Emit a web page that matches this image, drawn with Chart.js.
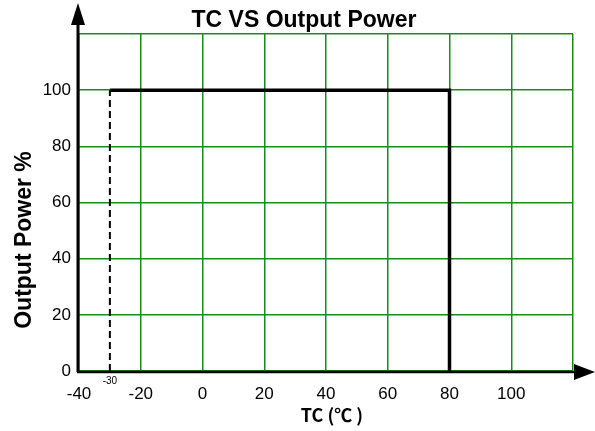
<!DOCTYPE html>
<html>
<head>
<meta charset="utf-8">
<script src="https://cdn.jsdelivr.net/npm/chart.js@4/dist/chart.umd.min.js"></script>
<style>
  html, body { margin: 0; padding: 0; background: #fff; }
  #wrap { width: 595px; height: 431px; }
</style>
</head>
<body>
<div id="wrap"><canvas id="powerChart"></canvas></div>
<script>
// derating curve: full power from -30 up to 80, then drops to 0
const curveTemp = [-30, 80, 80];
const curvePower = [100, 100, 0];
// dashed marker at the lower temperature limit
const limitTemp = [-30, -30];
const limitPower = [0, 100];
const limitLabel = '-30';

const xTicks = [-40, -20, 0, 20, 40, 60, 80, 100, 120];
const yTicks = [0, 20, 40, 60, 80, 100, 120];
const xHidden = [120];
const yHidden = [120];

const titleText = 'TC VS Output Power';
const xTitle = 'TC (℃ )';
const yTitle = 'Output Power %';

const GRID = '#1c8a1c';

function toPoints(xs, ys) {
    return xs.map((x, i) => ({ x: x, y: ys[i] }));
}

// draws the arrows, titles and the little -30 mark
const decorations = {
    id: 'decorations',
    afterDraw(chart) {
        const ctx = chart.ctx;
        const area = chart.chartArea;
        const xs = chart.scales.x;
        ctx.save();

        // axes with arrows
        ctx.strokeStyle = '#000';
        ctx.fillStyle = '#000';
        ctx.lineWidth = 3;
        ctx.beginPath();
        ctx.moveTo(area.left - 1, area.bottom + 1);
        ctx.lineTo(area.left - 1, 22);
        ctx.stroke();
        ctx.lineWidth = 2.5;
        ctx.beginPath();
        ctx.moveTo(area.left - 2, area.bottom + 1);
        ctx.lineTo(area.right + 4, area.bottom + 1);
        ctx.stroke();

        ctx.beginPath();
        ctx.moveTo(area.left - 1, 3);
        ctx.lineTo(area.left - 8, 25);
        ctx.lineTo(area.left + 6, 25);
        ctx.closePath();
        ctx.fill();

        ctx.beginPath();
        ctx.moveTo(595, area.bottom + 1);
        ctx.lineTo(area.right + 1, area.bottom - 7);
        ctx.lineTo(area.right + 1, area.bottom + 9);
        ctx.closePath();
        ctx.fill();

        // titles
        ctx.textAlign = 'center';
        ctx.textBaseline = 'alphabetic';
        ctx.font = 'bold 23px "Liberation Sans", Arial, sans-serif';
        ctx.fillText(titleText, 304, 27);

        ctx.font = 'bold 18px "Noto Sans CJK SC", "Noto Sans", sans-serif';
        ctx.fillText(xTitle, 332, 422);

        ctx.save();
        ctx.translate(31, 240);
        ctx.rotate(-Math.PI / 2);
        ctx.font = 'bold 23px "Liberation Sans", Arial, sans-serif';
        ctx.fillText(yTitle, 0, 0);
        ctx.restore();

        ctx.textBaseline = 'middle';
        ctx.font = '10px "Liberation Sans", Arial, sans-serif';
        ctx.fillText(limitLabel, xs.getPixelForValue(limitTemp[0]), area.bottom + 10);

        ctx.restore();
    }
};

new Chart(document.getElementById('powerChart'), {
    type: 'scatter',
    data: {
        datasets: [{
            data: toPoints(curveTemp, curvePower),
            showLine: true,
            borderColor: '#000',
            borderWidth: 3.5,
            pointRadius: 0,
            borderJoinStyle: 'miter',
            fill: false
        }, {
            data: toPoints(limitTemp, limitPower),
            showLine: true,
            borderColor: '#000',
            borderWidth: 2,
            borderDash: [7, 4],
            pointRadius: 0,
            fill: false
        }]
    },
    options: {
        responsive: true,
        maintainAspectRatio: false,
        animation: false,
        layout: { padding: { top: 34, right: 22, left: 0, bottom: 0 } },
        plugins: {
            legend: { display: false },
            tooltip: { enabled: false }
        },
        scales: {
            x: {
                type: 'linear',
                min: xTicks[0],
                max: xTicks[xTicks.length - 1],
                afterBuildTicks: (scale) => { scale.ticks = xTicks.map(v => ({ value: v })); },
                afterFit: (scale) => { scale.height = 60; },
                border: { display: false },
                grid: { color: GRID, lineWidth: 1.5, drawTicks: false },
                ticks: {
                    color: '#000',
                    padding: 13,
                    maxRotation: 0,
                    font: { family: '"Liberation Sans", Arial, sans-serif', size: 17 },
                    callback: (v) => xHidden.includes(v) ? '' : String(v)
                }
            },
            y: {
                type: 'linear',
                min: yTicks[0],
                max: yTicks[yTicks.length - 1],
                afterBuildTicks: (scale) => { scale.ticks = yTicks.map(v => ({ value: v })); },
                afterFit: (scale) => { scale.width = 79; },
                border: { display: false },
                grid: { color: GRID, lineWidth: 1.5, drawTicks: false },
                ticks: {
                    color: '#000',
                    padding: 8,
                    font: { family: '"Liberation Sans", Arial, sans-serif', size: 17 },
                    callback: (v) => yHidden.includes(v) ? '' : String(v)
                }
            }
        }
    },
    plugins: [decorations]
});
</script>
</body>
</html>
